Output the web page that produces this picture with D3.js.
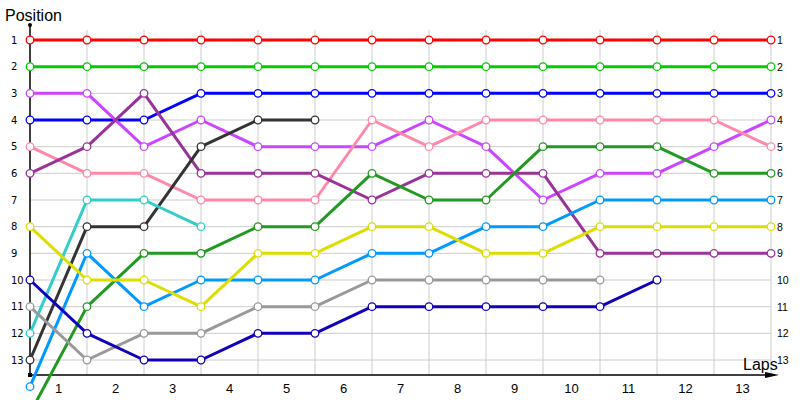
<!DOCTYPE html>
<html lang="en">
    <head>
        <meta charset="UTF-8">
        <title>Positions by lap</title>
        <style>
            body {
            margin: 0;
            padding: 0;
            background: #fff;
            }
            svg text {
            font-family: "Liberation Sans", Arial, sans-serif;
            fill: #000;
            }
        </style>
    </head>
    <body>
        <div id="chart"></div>

        <script src="https://d3js.org/d3.v7.min.js"></script>

        <script>
            // lap labels and position ticks
            const laps = [1, 2, 3, 4, 5, 6, 7, 8, 9, 10, 11, 12, 13];
            const positions = [1, 2, 3, 4, 5, 6, 7, 8, 9, 10, 11, 12, 13];

            // position of each driver at each grid line (start + after every lap)
            const red = [1, 1, 1, 1, 1, 1, 1, 1, 1, 1, 1, 1, 1, 1];
            const green = [2, 2, 2, 2, 2, 2, 2, 2, 2, 2, 2, 2, 2, 2];
            const blue = [4, 4, 4, 3, 3, 3, 3, 3, 3, 3, 3, 3, 3, 3];
            const violet = [3, 3, 5, 4, 5, 5, 5, 4, 5, 7, 6, 6, 5, 4];
            const pink = [5, 6, 6, 7, 7, 7, 4, 5, 4, 4, 4, 4, 4, 5];
            const purple = [6, 5, 3, 6, 6, 6, 7, 6, 6, 6, 9, 9, 9, 9];
            const darkGreen = [15, 11, 9, 9, 8, 8, 6, 7, 7, 5, 5, 5, 6, 6];
            const black = [13, 8, 8, 5, 4, 4];
            const cyan = [12, 7, 7, 8];
            const skyBlue = [14, 9, 11, 10, 10, 10, 9, 9, 8, 8, 7, 7, 7, 7];
            const yellow = [8, 10, 10, 11, 9, 9, 8, 8, 9, 9, 8, 8, 8, 8];
            const gray = [11, 13, 12, 12, 11, 11, 10, 10, 10, 10, 10];
            const navy = [10, 12, 13, 13, 12, 12, 11, 11, 11, 11, 11, 10];

            const series = [
                { values: red, color: '#ff0000' },
                { values: green, color: '#00cc00' },
                { values: blue, color: '#0000ff' },
                { values: violet, color: '#cc44ff' },
                { values: pink, color: '#ff88aa' },
                { values: purple, color: '#993399' },
                { values: darkGreen, color: '#229922' },
                { values: black, color: '#333333' },
                { values: cyan, color: '#33cccc' },
                { values: skyBlue, color: '#0099ff' },
                { values: yellow, color: '#dddd00' },
                { values: gray, color: '#999999' },
                { values: navy, color: '#1100bb' }
            ];

            const width = 800;
            const height = 400;
            const plotLeft = 30, plotRight = 771, plotTop = 40, plotBottom = 360, axisY = 375;

            const svg = d3.select('#chart')
            .append('svg')
            .attr('width', width)
            .attr('height', height);

            const x = d3.scaleLinear().domain([0, laps.length]).range([plotLeft, plotRight]);
            const y = d3.scaleLinear().domain([1, 13]).range([plotTop, plotBottom]);
            const xLap = d3.scaleBand().domain(laps).range([plotLeft, plotRight]);

            // grid
            svg.append('g')
            .selectAll('line')
            .data(positions)
            .join('line')
            .attr('x1', plotLeft).attr('x2', plotRight)
            .attr('y1', d => y(d)).attr('y2', d => y(d))
            .attr('stroke', '#cccccc');

            svg.append('g')
            .selectAll('line')
            .data(laps)
            .join('line')
            .attr('x1', d => x(d)).attr('x2', d => x(d))
            .attr('y1', 30).attr('y2', axisY)
            .attr('stroke', '#cccccc');

            // axes
            svg.append('line')
            .attr('x1', plotLeft).attr('x2', plotLeft)
            .attr('y1', 25).attr('y2', axisY)
            .attr('stroke', '#000').attr('stroke-width', 1.5);
            svg.append('circle').attr('cx', plotLeft).attr('cy', 25).attr('r', 2).attr('fill', '#000');
            svg.append('rect').attr('x', plotLeft - 2).attr('y', axisY - 2).attr('width', 4).attr('height', 4).attr('fill', '#000');

            svg.append('line')
            .attr('x1', plotLeft).attr('x2', 772)
            .attr('y1', axisY).attr('y2', axisY)
            .attr('stroke', '#000').attr('stroke-width', 1.5);
            svg.append('path')
            .attr('d', `M765,${axisY - 3} L779,${axisY} L765,${axisY + 3} Z`)
            .attr('fill', '#000');

            svg.append('g')
            .attr('transform', `translate(0, ${axisY})`)
            .call(d3.axisBottom(xLap).tickSize(0).tickPadding(9))
            .call(g => g.select('.domain').remove())
            .selectAll('text')
            .style('font-family', '"Liberation Sans", Arial, sans-serif')
            .style('font-size', '13px');

            svg.append('g')
            .attr('transform', 'translate(11, 0)')
            .call(d3.axisRight(y).tickValues(positions).tickSize(0).tickPadding(0))
            .call(g => g.select('.domain').remove())
            .selectAll('text')
            .style('font-family', '"DejaVu Sans", sans-serif')
            .style('font-size', '10px');

            svg.append('g')
            .attr('transform', 'translate(777, 0)')
            .call(d3.axisRight(y).tickValues(positions).tickSize(0).tickPadding(0))
            .call(g => g.select('.domain').remove())
            .selectAll('text')
            .style('font-family', '"Liberation Sans", Arial, sans-serif')
            .style('font-size', '10.5px');

            svg.append('text')
            .attr('x', 5).attr('y', 21)
            .style('font-size', '16px')
            .text('Position');

            svg.append('text')
            .attr('x', 743).attr('y', 370)
            .style('font-size', '16px')
            .text('Laps');

            // lines and markers
            const line = d3.line()
            .x((d, i) => x(i))
            .y(d => y(d));

            const plot = svg.append('g');

            series.forEach(s => {
                const g = plot.append('g');
                g.append('path')
                .datum(s.values)
                .attr('d', line)
                .attr('fill', 'none')
                .attr('stroke', s.color)
                .attr('stroke-width', 3)
                .attr('stroke-linejoin', 'round');

                g.selectAll('circle')
                .data(s.values)
                .join('circle')
                .attr('cx', (d, i) => x(i))
                .attr('cy', d => y(d))
                .attr('r', 3.8)
                .attr('fill', '#fff')
                .attr('stroke', s.color)
                .attr('stroke-width', 1.3);
            });
        </script>
    </body>
</html>
